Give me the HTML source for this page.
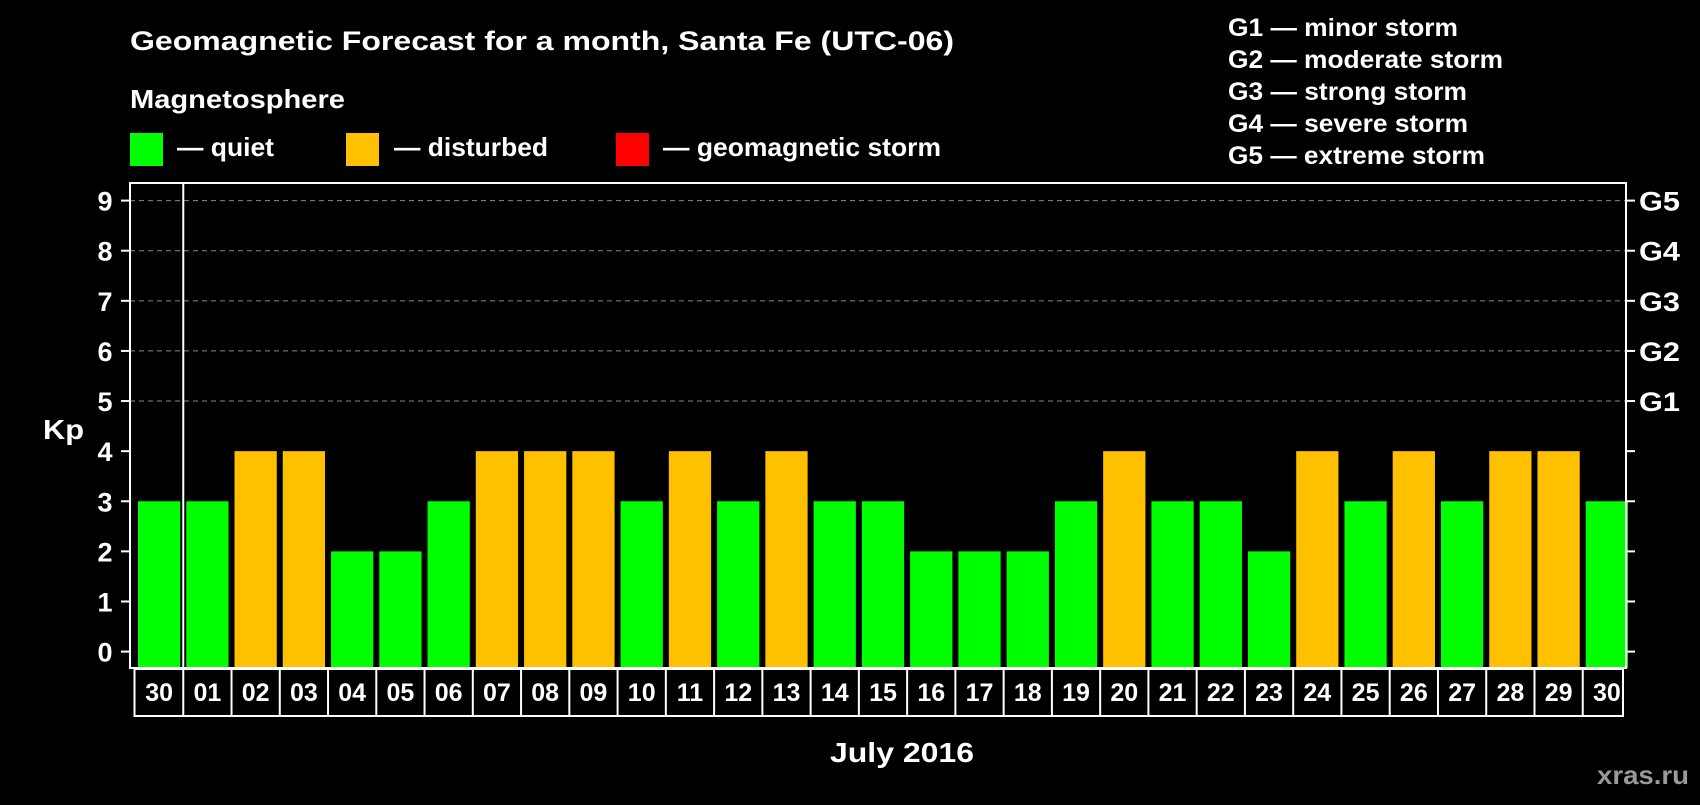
<!DOCTYPE html>
<html><head><meta charset="utf-8"><style>
body{margin:0;background:#000;width:1700px;height:800px;overflow:hidden}
svg text{font-family:"Liberation Sans",Arial,sans-serif;font-weight:bold;fill:#fff}
</style></head><body>
<svg id="c" width="1700" height="800">
<text x="130" y="50" font-size="27" textLength="824" lengthAdjust="spacingAndGlyphs">Geomagnetic Forecast for a month, Santa Fe (UTC-06)</text>
<text x="130" y="108" font-size="26" textLength="215" lengthAdjust="spacingAndGlyphs">Magnetosphere</text>
<rect x="130" y="133" width="33" height="33" fill="#00ff00"/>
<text x="177" y="156" font-size="26" textLength="97" lengthAdjust="spacingAndGlyphs">— quiet</text>
<rect x="346" y="133" width="33" height="33" fill="#ffc000"/>
<text x="394" y="156" font-size="26" textLength="154" lengthAdjust="spacingAndGlyphs">— disturbed</text>
<rect x="616" y="133" width="33" height="33" fill="#ff0000"/>
<text x="663" y="156" font-size="26" textLength="278" lengthAdjust="spacingAndGlyphs">— geomagnetic storm</text>
<g font-size="25">
<text x="1228" y="36" textLength="230" lengthAdjust="spacingAndGlyphs">G1 — minor storm</text>
<text x="1228" y="68" textLength="275" lengthAdjust="spacingAndGlyphs">G2 — moderate storm</text>
<text x="1228" y="100" textLength="239" lengthAdjust="spacingAndGlyphs">G3 — strong storm</text>
<text x="1228" y="132" textLength="240" lengthAdjust="spacingAndGlyphs">G4 — severe storm</text>
<text x="1228" y="164" textLength="257" lengthAdjust="spacingAndGlyphs">G5 — extreme storm</text>
</g>
<text x="43" y="439" font-size="28" textLength="41" lengthAdjust="spacingAndGlyphs">Kp</text>
<text x="830" y="762" font-size="28" textLength="144" lengthAdjust="spacingAndGlyphs">July 2016</text>
<text x="1597" y="784" font-size="26" textLength="92" lengthAdjust="spacingAndGlyphs" style="fill:#999">xras.ru</text>
<g id="grid"></g><g id="bars"></g><g id="axes"></g>
</svg>
<script>
const days=["30","01","02","03","04","05","06","07","08","09","10","11","12","13","14","15","16","17","18","19","20","21","22","23","24","25","26","27","28","29","30"];
const kp=[3,3,4,4,2,2,3,4,4,4,3,4,3,4,3,3,2,2,2,3,4,3,3,2,4,3,4,3,4,4,3];
const yTicks=[0,1,2,3,4,5,6,7,8,9];
const gLabels=["G1","G2","G3","G4","G5"];
const L=130,R=1626,T=183,B=668,Y0=651.6,Y9=200.6;
const NS="http://www.w3.org/2000/svg";
const y=v=>Y0-(Y0-Y9)*v/9;
const pitch=(R-L)/days.length;
const x=i=>L+i*pitch;
function mk(t,a,p){const e=document.createElementNS(NS,t);for(const k in a)e.setAttribute(k,a[k]);p.appendChild(e);return e;}
const grid=document.getElementById('grid'),bars=document.getElementById('bars'),axes=document.getElementById('axes');
yTicks.forEach(v=>{
 if(v>=5){const g=mk('line',{x1:L,x2:R,y1:y(v),y2:y(v),stroke:'#888','stroke-dasharray':'5,4','stroke-width':1},grid);
 
 }
 mk('line',{x1:L-9,x2:L,y1:y(v),y2:y(v),stroke:'#fff','stroke-width':2},axes);
 mk('line',{x1:R,x2:R+9,y1:y(v),y2:y(v),stroke:'#fff','stroke-width':2},axes);
 const t=mk('text',{x:105,y:y(v)+10,'font-size':27,'text-anchor':'middle'},axes);t.textContent=v;
 
 
});
gLabels.forEach((g,i)=>{const t=mk('text',{x:1639,y:y(i+5)+10,'font-size':27,textLength:41,lengthAdjust:'spacingAndGlyphs'},axes);t.textContent=g;
 
 });
kp.forEach((v,i)=>{
 const r=mk('rect',{x:x(i)+8,y:y(v),width:pitch-6,height:B-y(v),fill:v>=5?'#ff0000':v>=4?'#ffc000':'#00ff00'},bars);
 
 
});
mk('rect',{x:L,y:T,width:R-L,height:B-T,fill:'none',stroke:'#fff','stroke-width':2},axes);
mk('line',{x1:x(1)+5,x2:x(1)+5,y1:T,y2:B,stroke:'#fff','stroke-width':2},axes);
mk('rect',{x:134.5,y:669,width:1623-134.5,height:47,fill:'none',stroke:'#fff','stroke-width':2},axes);
days.forEach((d,i)=>{
 if(i>0)mk('line',{x1:x(i)+5,x2:x(i)+5,y1:669,y2:716,stroke:'#fff','stroke-width':2},axes);
 const t=mk('text',{x:x(i)+pitch/2+5,y:701,'font-size':25,'text-anchor':'middle'},axes);t.textContent=d;
 
 
});
</script>
</body></html>
